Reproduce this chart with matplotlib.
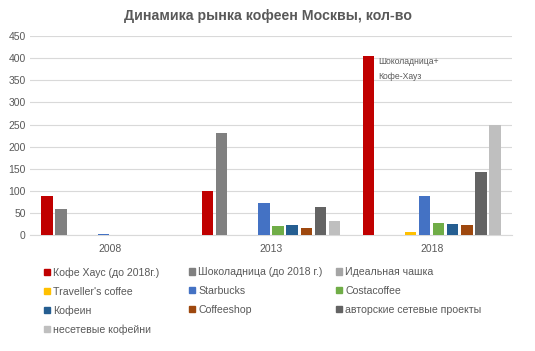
import numpy as np
import matplotlib
matplotlib.use("Agg")
import matplotlib.pyplot as plt
from matplotlib.patches import Patch

plt.rcParams["font.family"] = ["Liberation Sans", "DejaVu Sans"]

YEARS = ["2008", "2013", "2018"]
SERIES = ["Кофе Хаус (до 2018г.)", "Шоколадница (до 2018 г.)", "Идеальная чашка",
          "Traveller's coffee", "Starbucks", "Costacoffee",
          "Кофеин", "Coffeeshop", "авторские сетевые проекты",
          "несетевые кофейни"]
VALUES = [
    [89, 101, 405],   # Кофе Хаус
    [60, 230, 0],     # Шоколадница
    [0, 0, 0],        # Идеальная чашка
    [0, 0, 8],        # Traveller's coffee
    [3, 74, 89],      # Starbucks
    [0, 21, 28],      # Costacoffee
    [0, 23, 26],      # Кофеин
    [0, 17, 23],      # Coffeeshop
    [0, 64, 142],     # авторские
    [0, 33, 248],     # несетевые
]
COLORS = ["#C00000", "#808080", "#A5A5A5", "#FFC000", "#4472C4", "#70AD47",
          "#255E91", "#9E480E", "#636363", "#BFBFBF"]
NOTE = "Шоколадница+\nКофе-Хауз"
TXT = "#595959"

fig = plt.figure(figsize=(5.35, 3.51), dpi=100)
ax = fig.add_axes([0.056, 0.3296, 0.901, 0.568])

x = np.arange(len(YEARS))
slot, w = 0.0877, 0.071
for i, (vals, c) in enumerate(zip(VALUES, COLORS)):
    ax.bar(x + (i - 4.5) * slot, vals, width=w, color=c, zorder=3)

# note next to the 2018 Кофе Хаус bar
ax.annotate(NOTE, xy=(x[2] - 4.5 * slot + w / 2, VALUES[0][2]), xytext=(3, -0.5),
            textcoords="offset points", ha="left", va="top", fontsize=6.2,
            color=TXT, linespacing=1.95)

ax.set_xlim(-0.5, 2.5)
ax.set_ylim(0, 450)
ax.set_yticks(range(0, 451, 50))
ax.set_xticks(x)
ax.set_xticklabels(YEARS)
ax.grid(axis="y", color="#D9D9D9", lw=0.8, zorder=0)
for s in ["top", "right", "left"]:
    ax.spines[s].set_visible(False)
ax.spines["bottom"].set_color("#D9D9D9")
ax.tick_params(length=0, labelsize=7.5, colors=TXT, pad=3)
ax.tick_params(axis="x", pad=6)

fig.text(0.5, 0.955, "Динамика рынка кофеен Москвы, кол-во", ha="center", va="center",
         fontsize=10.2, fontweight="bold", color=TXT)

handles = [Patch(color=c) for c in COLORS]
col_x = [37, 182, 329]
for j in range(3):
    leg = fig.legend(handles[j::3], SERIES[j::3], loc="upper left",
                     bbox_to_anchor=(col_x[j] / 535, 1 - 260 / 351), frameon=False,
                     fontsize=7.6, handlelength=0.55, handleheight=0.55,
                     handletextpad=0.3, labelspacing=0.82, borderpad=0.2)
    for t in leg.get_texts():
        t.set_color(TXT)

fig.savefig("out.png", dpi=100)
